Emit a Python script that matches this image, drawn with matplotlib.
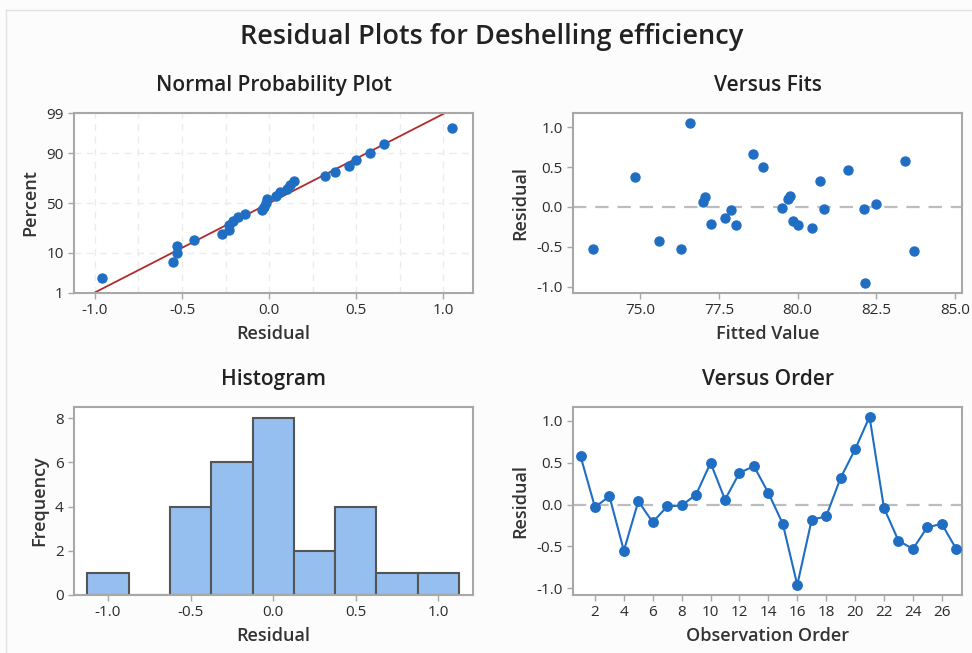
import matplotlib
matplotlib.use("Agg")
import matplotlib.pyplot as plt
from matplotlib.lines import Line2D
import numpy as np
from statistics import NormalDist

plt.rcParams['font.family'] = ['Open Sans', 'DejaVu Sans']

# residuals in observation order
residuals = [0.58, -0.03, 0.10, -0.55, 0.04, -0.21, -0.02, -0.01, 0.12, 0.50,
             0.06, 0.38, 0.46, 0.14, -0.23, -0.96, -0.18, -0.14, 0.32, 0.66,
             1.05, -0.04, -0.43, -0.53, -0.27, -0.23, -0.53]
# fitted values for the same observations
fitted = [83.4, 82.1, 79.7, 83.7, 82.5, 77.25, 80.85, 79.5, 77.05, 78.9,
          77.0, 74.85, 81.6, 79.75, 78.05, 82.15, 79.85, 77.7, 80.7, 78.6,
          76.6, 77.9, 75.6, 76.3, 80.45, 80.0, 73.5]
order = list(range(1, len(residuals) + 1))
hist_edges = [-1.125, -0.875, -0.625, -0.375, -0.125, 0.125, 0.375, 0.625, 0.875, 1.125]
prob_ticks = [1, 10, 50, 90, 99]

BLUE = '#1f6ec4'
SPINE = '#a8a8a8'
TXT = '#222222'

W, H = 972, 653
fig = plt.figure(figsize=(W / 100, H / 100), dpi=100, facecolor='#fcfcfc')

def box(l, t, r, b):
    return [l / W, 1 - b / H, (r - l) / W, (b - t) / H]

def style(ax, title, xlabel, ylabel):
    ax.set_facecolor('white')
    for s in ax.spines.values():
        s.set_color(SPINE)
        s.set_linewidth(1.5)
    ax.tick_params(colors=SPINE, labelcolor='#2b2b2b', labelsize=11, length=4, width=1)
    ax.set_title(title, fontsize=15, fontweight='semibold', color=TXT, pad=16)
    ax.set_xlabel(xlabel, fontsize=13, fontweight='semibold', color='#333333', labelpad=5)
    ax.set_ylabel(ylabel, fontsize=13, fontweight='semibold', color='#333333', labelpad=5)

fmt1 = lambda v: f'{v:.1f}'

# Normal probability plot
nd = NormalDist()
ax1 = fig.add_axes(box(74, 113, 473, 293))
r = np.sort(residuals)
n = len(r)
pct = [(i + 1 - 0.3) / (n + 0.4) for i in range(n)]
z = [nd.inv_cdf(p) for p in pct]
mu, sd = np.mean(residuals), np.std(residuals, ddof=1)
xl = np.array([-1.12, 1.17])
ax1.grid(True, color='#ececec', linestyle=(0, (5, 4)), linewidth=1)
ax1.set_axisbelow(True)
ax1.plot(xl, (xl - mu) / sd, color='#b22a2a', linewidth=1.3, zorder=2)
ax1.scatter(r, z, s=42, color=BLUE, zorder=3)
ax1.set_xlim(-1.12, 1.17)
ax1.set_ylim(nd.inv_cdf(0.01), nd.inv_cdf(0.99))
ax1.set_xticks([-1.0, -0.5, 0.0, 0.5, 1.0])
ax1.set_xticks(np.arange(-1.0, 1.01, 0.25), minor=True)
ax1.tick_params(which='minor', length=0)
ax1.grid(True, which='minor', axis='x', color='#ececec', linestyle=(0, (5, 4)), linewidth=1)
ax1.set_xticklabels([fmt1(v) for v in [-1.0, -0.5, 0.0, 0.5, 1.0]])
ax1.set_yticks([nd.inv_cdf(p / 100) for p in prob_ticks])
ax1.set_yticklabels([str(p) for p in prob_ticks])
style(ax1, 'Normal Probability Plot', 'Residual', 'Percent')

# Versus fits
ax2 = fig.add_axes(box(573, 113, 962, 293))
ax2.axhline(0, color='#bdbdbd', linestyle=(0, (6, 4)), linewidth=1.6, zorder=1)
ax2.scatter(fitted, residuals, s=42, color=BLUE, zorder=3)
ax2.set_xlim(72.87, 85.22)
ax2.set_ylim(-1.08, 1.18)
ax2.set_xticks([75.0, 77.5, 80.0, 82.5, 85.0])
ax2.set_xticklabels([fmt1(v) for v in [75.0, 77.5, 80.0, 82.5, 85.0]])
ax2.set_yticks([-1.0, -0.5, 0.0, 0.5, 1.0])
ax2.set_yticklabels([fmt1(v) for v in [-1.0, -0.5, 0.0, 0.5, 1.0]])
style(ax2, 'Versus Fits', 'Fitted Value', 'Residual')

# Histogram
ax3 = fig.add_axes(box(74, 407, 473, 595))
ax3.hist(residuals, bins=hist_edges, color='#94bfef', edgecolor='#555555', linewidth=1.5)
ax3.set_xlim(-1.206, 1.21)
ax3.set_ylim(0, 8.5)
ax3.set_xticks([-1.0, -0.5, 0.0, 0.5, 1.0])
ax3.set_xticklabels([fmt1(v) for v in [-1.0, -0.5, 0.0, 0.5, 1.0]])
ax3.set_yticks([0, 2, 4, 6, 8])
style(ax3, 'Histogram', 'Residual', 'Frequency')

# Versus order
ax4 = fig.add_axes(box(573, 407, 962, 595))
ax4.axhline(0, color='#bdbdbd', linestyle=(0, (6, 4)), linewidth=1.6, zorder=1)
ax4.plot(order, residuals, color=BLUE, linewidth=1.5, marker='o', markersize=6.8, zorder=3)
ax4.set_xlim(0.48, 27.4)
ax4.set_ylim(-1.08, 1.167)
ax4.set_xticks(range(2, 27, 2))
ax4.set_yticks([-1.0, -0.5, 0.0, 0.5, 1.0])
ax4.set_yticklabels([fmt1(v) for v in [-1.0, -0.5, 0.0, 0.5, 1.0]])
style(ax4, 'Versus Order', 'Observation Order', 'Residual')

fig.text(492 / W, 1 - 37 / H, 'Residual Plots for Deshelling efficiency', ha='center', va='center',
         fontsize=19.5, fontweight='semibold', color=TXT)

# frame lines of the original window
fig.add_artist(Line2D([6 / W, 6 / W], [0, 1 - 10 / H], color='#e2e2e2', linewidth=1))
fig.add_artist(Line2D([6 / W, 1], [1 - 10 / H, 1 - 10 / H], color='#e2e2e2', linewidth=1))

fig.savefig('out.png', dpi=100, facecolor=fig.get_facecolor())
